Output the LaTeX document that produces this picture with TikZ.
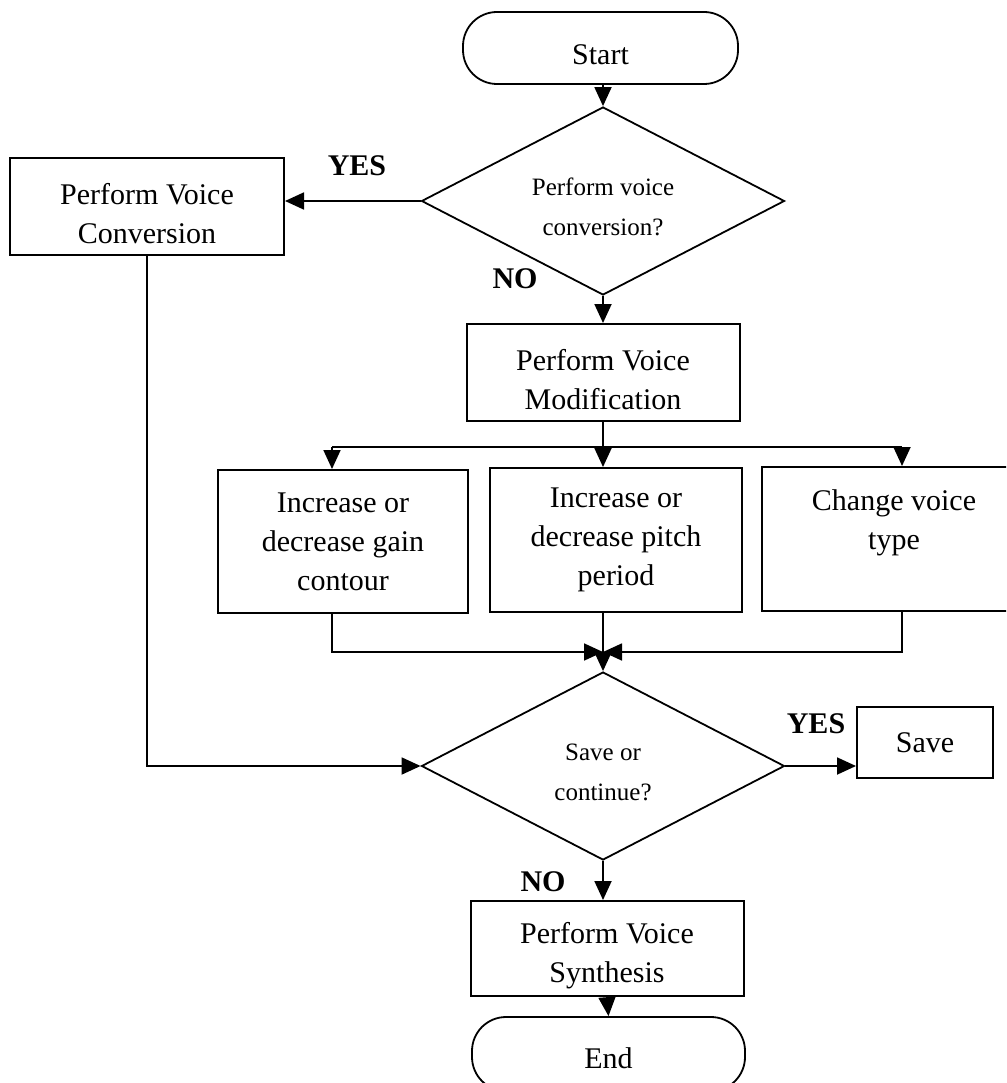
\documentclass[tikz,border=0pt]{standalone}
\usepackage{fontspec}
\setmainfont{Liberation Serif}
\usetikzlibrary{arrows.meta,shapes.geometric}

\begin{document}
\begin{tikzpicture}[x=1pt,y=-1pt,
  every node/.style={align=center, inner sep=0pt},
  boxtext/.style={font=\fontsize{30}{39}\selectfont},
  smalltext/.style={font=\fontsize{25}{40}\selectfont},
  lowbox/.style={boxtext, yshift=-7pt},
  lowdiam/.style={smalltext, yshift=-6pt},
  procbox/.style={draw, line width=2pt, boxtext},
  termbox/.style={draw, line width=1.8pt, rounded corners=34pt, boxtext},
  decision/.style={draw, diamond, line width=1.8pt, minimum width=363pt, minimum height=188pt, smalltext},
  answer/.style={font=\fontsize{30}{34}\selectfont\bfseries},
  conn/.style={line width=1.8pt},
  arr/.style={conn, -{Triangle[length=19pt,width=17pt]}}
]
\useasboundingbox (0,0) rectangle (1006,1083);
\clip (0,0) rectangle (1006,1083);
\fill[white] (0,0) rectangle (1006,1083);

% terminals
\node[termbox, minimum width=275pt, minimum height=72pt,
      label={[lowbox]center:Start}] (start) at (600.5,48) {};
\node[termbox, minimum width=273pt, minimum height=74pt,
      label={[lowbox, yshift=3pt]center:End}] (end) at (608.5,1054) {};

% decisions
\node[decision, label={[lowdiam]center:Perform voice\\conversion?}] (d1) at (603,201) {};
\node[decision, label={[lowdiam]center:Save or\\continue?}] (d2) at (603,766) {};

% processes
\node[procbox, minimum width=274pt, minimum height=97pt,
      label={[lowbox]center:Perform Voice\\Conversion}] (conv) at (147,206.5) {};
\node[procbox, minimum width=273pt, minimum height=97pt,
      label={[lowbox]center:Perform Voice\\Modification}] (mod) at (603,372.5) {};
\node[procbox, minimum width=250pt, minimum height=143pt] (gain) at (343,541.5) {Increase or\\decrease gain\\contour};
\node[procbox, minimum width=252pt, minimum height=144pt] (pitch) at (616,540) {Increase or\\decrease pitch\\period};
\node[procbox, minimum width=264pt, minimum height=144pt] (vtype) at (894,539) {Change voice\\type\\\mbox{}};
\node[procbox, minimum width=136pt, minimum height=71pt] (save) at (925,742.5) {Save};
\node[procbox, minimum width=273pt, minimum height=95pt,
      label={[lowbox]center:Perform Voice\\Synthesis}] (synth) at (607,948.5) {};

% branch labels
\node[answer] (yes1) at (357,166) {YES};
\node[answer] (no1) at (515,279) {NO};
\node[answer] (yes2) at (816,724) {YES};
\node[answer] (no2) at (543,882) {NO};

% junction points
\coordinate (splitL) at (332,447);
\coordinate (splitR) at (902,447);
\coordinate (merge) at (603,652);

% connectors
\draw[arr] (d1.north |- start.south) -- (d1.north);
\draw[arr] (d1.west) -- (d1.west -| conv.east);
\draw[arr] (d1.south) -- (mod.north);
\draw[arr] (mod.south) -- (mod.south |- pitch.north);
\draw[conn] (splitL) -- (splitR);
\draw[arr] (splitL) -- (splitL |- gain.north);
\draw[arr] (splitR) -- (splitR |- vtype.north);
\draw[arr] (splitL |- gain.south) |- (merge);
\draw[arr] (splitR |- vtype.south) |- (merge);
\draw[arr] (d2.north |- pitch.south) -- (d2.north);
\draw[arr] (conv.south) |- (d2.west);
\draw[arr] (d2.east) -- (d2.east -| save.west);
\draw[arr] (d2.south) -- (d2.south |- synth.north);
\draw[arr] (synth.south) -- (end.north);
\end{tikzpicture}
\end{document}
